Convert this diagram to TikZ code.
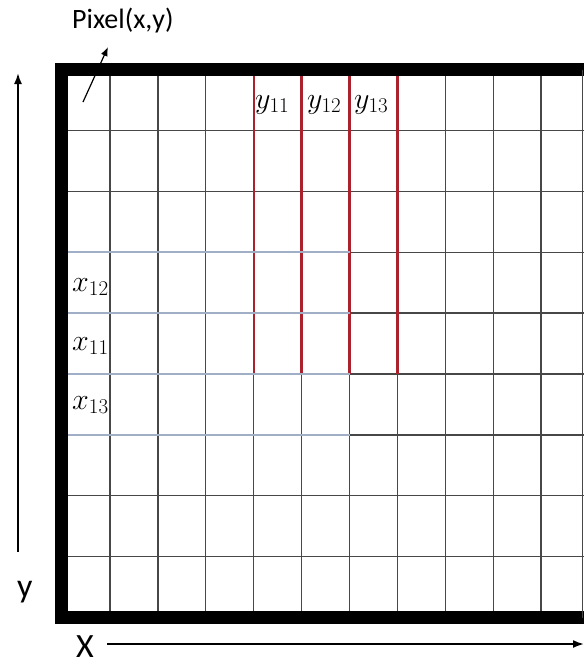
\RequirePackage{fix-cm}
\documentclass[tikz,border=0pt]{standalone}
\usepackage{fontspec}
\setmainfont{Carlito}
\usetikzlibrary{positioning, arrows.meta}
\definecolor{gridred}{RGB}{172,34,44}
\definecolor{gridblue}{RGB}{160,174,198}
\tikzset{
  gridline/.style  = {draw=black!72, line width=1.3pt},
  redline/.style   = {draw=gridred, line width=2.4pt},
  blueline/.style  = {draw=gridblue, line width=2.4pt},
  frameline/.style = {draw=black, line width=12.5pt, line join=miter},
  axisarrow/.style = {-{Latex[length=11pt,width=8pt]}, line width=1.8pt},
  ptrarrow/.style  = {-{Latex[length=9pt,width=7pt]}, line width=1.2pt},
  axislabel/.style = {font=\fontsize{34}{40}\selectfont, inner sep=0pt, anchor=base west},
  toplabel/.style  = {font=\fontsize{28}{32}\selectfont, inner sep=0pt, anchor=base west},
  cellmath/.style  = {font=\fontsize{30}{34}\selectfont, inner sep=0pt, anchor=base west}
}

\begin{document}
\begin{tikzpicture}[x=1pt, y=-1pt]
    \useasboundingbox (0,0) rectangle (584,664);

    % --- Grid of pixels -----------------------------------------------------
    \foreach \i in {0,...,9}
      \draw[gridline] ({110+47.9*\i},69.5) -- ({110+47.9*\i},617.5);
    \foreach \j in {1,...,8}
      \draw[gridline] (61.5,{69.5+60.9*\j}) -- (584,{69.5+60.9*\j});

    % --- Highlighted columns and rows ---------------------------------------
    \foreach \i in {3,...,6}
      \draw[redline] ({110+47.9*\i},76) -- ({110+47.9*\i},374);
    \foreach \j in {3,...,6}
      \draw[blueline] (68,{69.5+60.9*\j}) -- (349.5,{69.5+60.9*\j});

    % --- Frame ----------------------------------------------------------------
    \draw[frameline] (584,69.5) -- (61.5,69.5) -- (61.5,617.5) -- (584,617.5);
    \draw[gridline] (582.5,69.5) -- (582.5,617.5);

    % --- Labels ---------------------------------------------------------------
    \node[toplabel] (pixel) at (72,28) {Pixel(x,y)};
    \node[cellmath] (y11) at (255,108) {$y_{11}$};
    \node[cellmath] (y12) at (307,108) {$y_{12}$};
    \node[cellmath] (y13) at (354,108) {$y_{13}$};
    \node[cellmath] (x12) at (72,291) {$x_{12}$};
    \node[cellmath] (x11) at (72,350) {$x_{11}$};
    \node[cellmath] (x13) at (72,409) {$x_{13}$};
    \node[axislabel] (ylab) at (17,597) {y};
    \node[axislabel] (xlab) at (76,657) {X};

    % --- Arrows ---------------------------------------------------------------
    \coordinate (ptail) at (83,102);
    \coordinate (phead) at (108,47);
    \coordinate (ytail) at (18,552);
    \coordinate (yhead) at (18,73);
    \coordinate (xtail) at (107,644);
    \coordinate (xhead) at (584,644);
    \draw[ptrarrow]  (ptail) -- (phead);
    \draw[axisarrow] (ytail) -- (yhead);
    \draw[axisarrow] (xtail) -- (xhead);

\end{tikzpicture}
\end{document}
